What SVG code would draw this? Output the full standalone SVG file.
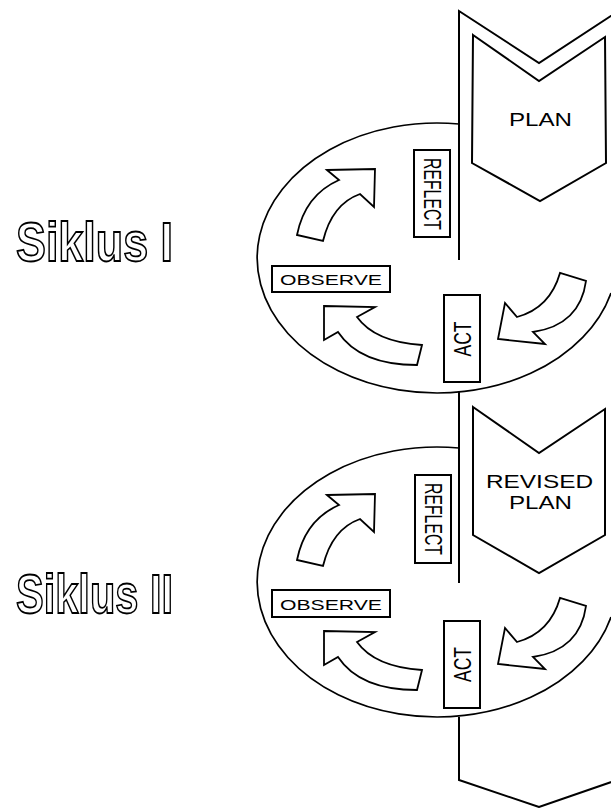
<svg xmlns="http://www.w3.org/2000/svg" width="611" height="808" viewBox="0 0 611 808">
<style>
.ln{fill:none;stroke:#000;stroke-width:2}
.el{fill:none;stroke:#000;stroke-width:1.7}
.arr{fill:#fff;stroke:#000;stroke-width:1.8;stroke-linejoin:miter}
.box{fill:#fff;stroke:#000;stroke-width:2}
.chev{fill:#fff;stroke:#000;stroke-width:2;stroke-linejoin:miter}
.lbl{font-family:"Liberation Sans",Arial,Helvetica,sans-serif;fill:#000}
.sik{font-family:"Liberation Sans",Arial,Helvetica,sans-serif;font-weight:bold;fill:#fff;stroke:#000;stroke-width:1.8}
</style>
<rect width="611" height="808" fill="#fff"/>
<g id="frame">
  <path class="el" d="M459,124 A180,135 0 1,0 611,293"/>
  <path class="el" d="M459,448 A180,135 0 1,0 611,617"/>
  <path class="ln" d="M620,10 L539,63 L459,11 L459,260"/>
  <path class="ln" d="M459,392 L459,583"/>
  <path class="ln" d="M459,717 L459,780 L539,807 L620,779"/>
</g>
<g id="titles">
  <text class="sik" x="16" y="261" font-size="56" textLength="157" lengthAdjust="spacingAndGlyphs">Siklus I</text>
  <text class="sik" x="16" y="613" font-size="56" textLength="157" lengthAdjust="spacingAndGlyphs">Siklus II</text>
</g>
<g id="plan1">
  <polygon class="chev" points="473,35 539,81 605,37 606,163 540,201 472,163"/>
  <text class="lbl" x="509" y="126" font-size="18" textLength="63" lengthAdjust="spacingAndGlyphs">PLAN</text>
</g>
<g id="reflect1">
  <rect class="box" x="414" y="150" width="36" height="87"/>
  <text class="lbl" font-size="16" transform="translate(432,194) rotate(90) scale(1,1.45)" x="-36" y="5.8" textLength="72" lengthAdjust="spacingAndGlyphs">REFLECT</text>
</g>
<g id="act1">
  <rect class="box" x="444" y="295" width="36" height="87"/>
  <text class="lbl" font-size="17.5" transform="translate(462,339) rotate(-90) scale(1,1.4)" x="-17.5" y="6.2" textLength="35" lengthAdjust="spacingAndGlyphs">ACT</text>
</g>
<g id="observe1">
  <rect class="box" x="272" y="266" width="118" height="26"/>
  <text class="lbl" x="280" y="285" font-size="15" textLength="102" lengthAdjust="spacingAndGlyphs">OBSERVE</text>
</g>
<g id="plan2">
  <polygon class="chev" points="473,407 539,453 605,409 605,535 539,573 473,535"/>
  <text class="lbl" x="486" y="488" font-size="18" textLength="107" lengthAdjust="spacingAndGlyphs">REVISED</text>
  <text class="lbl" x="509" y="509" font-size="18" textLength="63" lengthAdjust="spacingAndGlyphs">PLAN</text>
</g>
<g id="reflect2">
  <rect class="box" x="415" y="475" width="36" height="88"/>
  <text class="lbl" font-size="16" transform="translate(433,519) rotate(90) scale(1,1.45)" x="-36" y="5.8" textLength="72" lengthAdjust="spacingAndGlyphs">REFLECT</text>
</g>
<g id="act2">
  <rect class="box" x="444" y="621" width="36" height="87"/>
  <text class="lbl" font-size="17.5" transform="translate(462,664.5) rotate(-90) scale(1,1.4)" x="-17.5" y="6.2" textLength="35" lengthAdjust="spacingAndGlyphs">ACT</text>
</g>
<g id="observe2">
  <rect class="box" x="272" y="590" width="118" height="27"/>
  <text class="lbl" x="280" y="610" font-size="15" textLength="102" lengthAdjust="spacingAndGlyphs">OBSERVE</text>
</g>
<g id="connectors">
  <g id="cycle1-arrows">
    <path class="arr" d="M327,170 L375,169 L374,207 L360,194 Q332,204 323,241 L297,235 Q305,195 339,180 Z"/>
    <path class="arr" d="M324,306 L375,307 L357,317 Q375,342 422,345 L417,365 Q360,365 338,332 L324,340 Z"/>
    <path class="arr" d="M560,273 Q550,308 517,317 L505,303 L498,339 L545,344 L533,332 Q580,325 586,281 Z"/>
  </g>
  <g id="cycle2-arrows" transform="translate(0,325)">
    <path class="arr" d="M327,170 L375,169 L374,207 L360,194 Q332,204 323,241 L297,235 Q305,195 339,180 Z"/>
    <path class="arr" d="M324,306 L375,307 L357,317 Q375,342 422,345 L417,365 Q360,365 338,332 L324,340 Z"/>
    <path class="arr" d="M560,273 Q550,308 517,317 L505,303 L498,339 L545,344 L533,332 Q580,325 586,281 Z"/>
  </g>
</g>
</svg>
